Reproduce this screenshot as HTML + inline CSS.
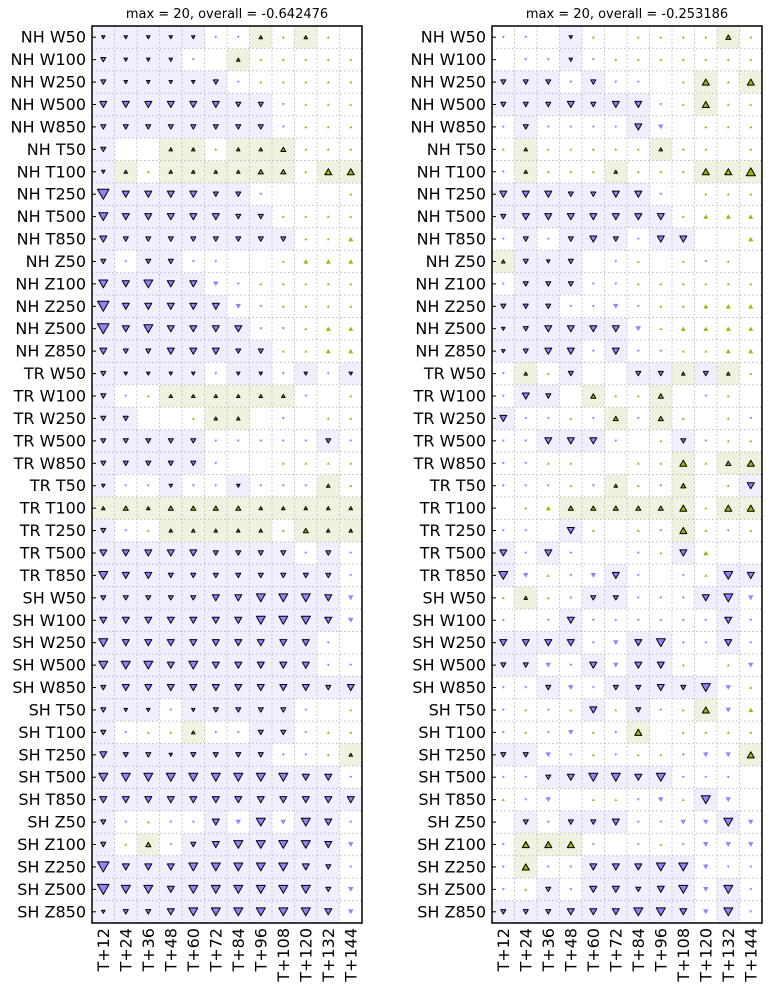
<!DOCTYPE html>
<html><head><meta charset="utf-8"><style>
html,body{margin:0;padding:0;background:#fff}
svg{display:block}
text{font-family:"DejaVu Sans","Liberation Sans",sans-serif}
</style></head><body>
<svg id="s" width="771" height="994" xmlns="http://www.w3.org/2000/svg"></svg>
<script>
var rows=["NH W50","NH W100","NH W250","NH W500","NH W850","NH T50","NH T100","NH T250","NH T500","NH T850","NH Z50","NH Z100","NH Z250","NH Z500","NH Z850","TR W50","TR W100","TR W250","TR W500","TR W850","TR T50","TR T100","TR T250","TR T500","TR T850","SH W50","SH W100","SH W250","SH W500","SH W850","SH T50","SH T100","SH T250","SH T500","SH T850","SH Z50","SH Z100","SH Z250","SH Z500","SH Z850"];
var L=["11111ppayay.","2111p.ayyyyy","211112pyyyyy","33333322pyyy","22222222pyyy","2..aayaabyyy","1ayaaaabbycc","5333322p...y","43333322yyyy","322222222yyY","2p22pp..yYYY","43433Ppyyyyy","533333Ppyyyy","5343333ppyYY","32233322yyYY","21111p11p1p1","2pyaaaaaap.y","22..yaa.p.yy","22222ppppp2p","22222p..yyyy","1pp1pp1pppay","ababbbbaaaaa","2pyaaaaaybaa","333332222p2p","43322222222p","22222334443P","33333334443P","4333333333p.","4443433333pp","233333333323","211p12222p.y","2pyyapp22pyy","32212222ppya","44444444433p","333333333333","2pypp3P4P43p","2ybp2344443P","53334444432p","54434444442P","12234444443P"];
var R=["pp.1y.yyyyby",".pp1pyyyyyyy","222p2pp.ycyc","2223233pycyy","p2pppp3P.yyy","yayyyyyayy.y","payyyayyyccd","3332233p.yyy","23333333yYYY","p2p232p33..Y","a212.py.ypy.","p222ppyyyyyy","222ppPpyyYYY","123333PyYYYY","1233p3ppyyYY","pay2..22a2ay","p32.byyb.py.","3ppypbpby.yp","pp333p.y2pyy","ppyy..yycybc","pppypaypb.y3",".yYbbbbbcycc","pp.3y.ypcypy","3p3p..py3Y..","4PypP3p.py43","yayp22ppp34P","p.p3pppppp3p","3333pP34pp3p","22Pp3P33y.yP","pp2Pp22324Py","pypy3y2pycPY","pypPypc.yyyy","22PpypyypPPc","pp234434ppp.","ypP.yypPy4P.",".2p223ppPP4P","pcccp.pypPPP","pcpp33344Ppp","py2p33234P4p","222333443P4p"];
var NR=L.length, y0=26, H=897, cw=270/12, rh=H/NR;
var out=[];
function tri(cx,cy,s,up,fill,stroke){
 var h=s*0.87,p;
 if(up)p=[cx-s/2,cy+h/2,cx+s/2,cy+h/2,cx,cy-h/2];
 else p=[cx-s/2,cy-h/2,cx+s/2,cy-h/2,cx,cy+h/2];
 out.push('<polygon points="'+p.map(function(v){return v.toFixed(1)}).join(',')+'" fill="'+fill+'"'+(stroke?' stroke="#000" stroke-width="1" stroke-linejoin="round"':'')+'/>');
}
var PU="#9580ff",GR="#9ab800";
function panel(x0,data,title){
 out.push('<text x="'+(x0+135)+'" y="18" font-size="13" text-anchor="middle">'+title+'</text>');
 for(var r=0;r<NR;r++)for(var c=0;c<12;c++){
  var ch=data[r][c],x=x0+c*cw,y=y0+r*rh;
  if(/[1-5]/.test(ch))out.push('<rect x="'+x+'" y="'+y+'" width="'+cw+'" height="'+rh+'" fill="#efeffd"/>');
  else if(/[a-d]/.test(ch))out.push('<rect x="'+x+'" y="'+y+'" width="'+cw+'" height="'+rh+'" fill="#eef2df"/>');
 }
 for(var c=1;c<12;c++){var x=x0+c*cw;out.push('<line x1="'+x+'" y1="'+y0+'" x2="'+x+'" y2="'+(y0+H)+'" stroke="#bbb" stroke-width="1" stroke-dasharray="1.5,2.5"/>');}
 for(var r=1;r<NR;r++){var y=y0+r*rh;out.push('<line x1="'+x0+'" y1="'+y+'" x2="'+(x0+270)+'" y2="'+y+'" stroke="#bbb" stroke-width="1" stroke-dasharray="1.5,2.5"/>');}
 for(var r=0;r<NR;r++)for(var c=0;c<12;c++){
  var ch=data[r][c],cx=x0+(c+.5)*cw,cy=y0+(r+.5)*rh;
  var sz={"1":3.5,"2":5,"3":7,"4":9,"5":11.5};
  if(sz[ch])tri(cx,cy,sz[ch],false,PU,true);
  else if("abcd".indexOf(ch)>=0)tri(cx,cy,{a:3.5,b:5,c:7,d:9}[ch],true,GR,true);
  else if(ch=="p")tri(cx,cy,3,false,PU,false);
  else if(ch=="P")tri(cx,cy,5.5,false,PU,false);
  else if(ch=="y")tri(cx,cy,3,true,GR,false);
  else if(ch=="Y")tri(cx,cy,5,true,GR,false);
 }
 out.push('<rect x="'+x0+'" y="'+y0+'" width="270" height="'+H+'" fill="none" stroke="#000" stroke-width="1.5"/>');
 for(var r=0;r<NR;r++){var cy=y0+(r+.5)*rh;
  out.push('<line x1="'+x0+'" y1="'+cy+'" x2="'+(x0+4)+'" y2="'+cy+'" stroke="#000"/>');
  out.push('<text x="'+(x0-6)+'" y="'+(cy+5.5)+'" font-size="16" text-anchor="end">'+rows[r]+'</text>');}
 for(var c=0;c<12;c++){var cx=x0+(c+.5)*cw;
  out.push('<text transform="translate('+(cx+5.5)+',928) rotate(-90)" font-size="16" text-anchor="end">T+'+(12*(c+1))+'</text>');}
}
panel(92,L,"max = 20, overall = -0.642476");
panel(492,R,"max = 20, overall = -0.253186");
document.getElementById("s").innerHTML=out.join("");
</script>
</body></html>
